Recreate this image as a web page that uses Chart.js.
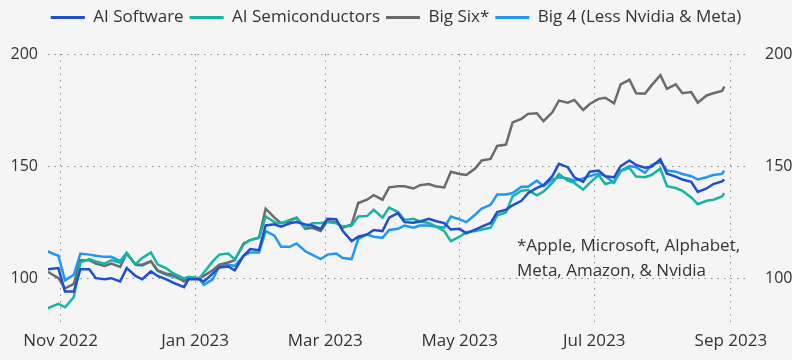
<!DOCTYPE html>
<html>
<head>
<meta charset="utf-8">
<script src="https://cdn.jsdelivr.net/npm/chart.js@4.4.1/dist/chart.umd.min.js"></script>
<style>
  html, body { margin: 0; padding: 0; background: #f5f5f5; }
  #wrap { width: 792px; height: 360px; }
</style>
</head>
<body>
<div id="wrap"><canvas id="chart" width="792" height="360"></canvas></div>
<script>
// sample dates (rebased index, 100 = end of 2022)
const dates = [
  '2022-10-26','2022-10-31','2022-11-03','2022-11-07','2022-11-10','2022-11-14','2022-11-17','2022-11-21',
  '2022-11-24','2022-11-28','2022-12-01','2022-12-05','2022-12-08','2022-12-12','2022-12-15','2022-12-19',
  '2022-12-22','2022-12-27','2022-12-29','2023-01-03','2023-01-05','2023-01-09','2023-01-12','2023-01-16',
  '2023-01-19','2023-01-23','2023-01-26','2023-01-30','2023-02-02','2023-02-06','2023-02-09','2023-02-13',
  '2023-02-16','2023-02-20','2023-02-23','2023-02-27','2023-03-02','2023-03-06','2023-03-09','2023-03-13',
  '2023-03-16','2023-03-20','2023-03-23','2023-03-27','2023-03-30','2023-04-03','2023-04-06','2023-04-10',
  '2023-04-13','2023-04-17','2023-04-20','2023-04-24','2023-04-27','2023-05-01','2023-05-04','2023-05-08',
  '2023-05-11','2023-05-15','2023-05-18','2023-05-22','2023-05-25','2023-05-29','2023-06-01','2023-06-05',
  '2023-06-08','2023-06-12','2023-06-15','2023-06-19','2023-06-22','2023-06-26','2023-06-29','2023-07-03',
  '2023-07-06','2023-07-10','2023-07-13','2023-07-17','2023-07-20','2023-07-24','2023-07-27','2023-07-31',
  '2023-08-03','2023-08-07','2023-08-10','2023-08-14','2023-08-17','2023-08-21','2023-08-24','2023-08-28',
  '2023-08-29'
];

const aiSoftware = [
  104, 104.5, 94, 94, 104, 104, 100, 99.5, 100, 98.5, 104.5, 101, 99.5, 103, 101, 99.5,
  98, 96, 99.5, 99.5, 98.5, 102, 104.7, 105.2, 103.5, 110, 113, 112.5, 123.5, 124, 123, 124.5,
  125, 124, 123.5, 122, 126.5, 126.3, 121, 116.5, 118.5, 119.5, 121.5, 121, 127, 129, 125, 124.7,
  125.3, 126.5, 125.5, 124.6, 121.7, 122, 120, 121.7, 123, 124.6, 129.5, 130.5, 132.5, 134.5, 137.9, 140.3,
  141.5, 145.5, 151, 149.5, 145, 143, 147.5, 148, 145.5, 145, 150, 152.5, 150.5, 149.3, 149.7, 153,
  146.6, 145.3, 144, 143, 138.5, 140, 142, 143.2, 144
];

const aiSemis = [
  86.5, 88.5, 87, 91.5, 107, 108.5, 107.5, 106.5, 108, 107, 111, 106.2, 109, 111.4, 106.2, 104.4,
  102.2, 99.9, 100.6, 100, 102.5, 107.5, 110.5, 111, 108.5, 115, 117, 118, 127.5, 125, 124.5, 126,
  127, 122.5, 124.5, 124.6, 125, 124.5, 123, 123.5, 127.5, 127.7, 130.5, 127, 131.5, 129.5, 126, 126.5,
  125.3, 124.6, 123.2, 121, 116.5, 118.5, 120.5, 121, 121.7, 122.5, 128, 129.3, 136.5, 139, 139.3, 137,
  138.6, 142.5, 146.5, 143.5, 142.5, 139.5, 142.5, 146, 142, 143, 147.8, 149.2, 145.3, 145, 146, 148.9,
  141, 140.2, 139, 136, 133, 134.5, 135, 136.5, 137.9
];

const bigSix = [
  103, 100, 95.5, 97.5, 108, 108, 106.5, 105.5, 106.5, 105, 111, 106, 106, 107.5, 103.5, 102,
  101.5, 98.5, 100.3, 100, 101, 103.5, 106, 107, 108, 115.5, 117, 118, 131, 127, 124.5, 125.5,
  127, 122, 122.5, 121, 125.5, 125, 122.5, 124, 133.5, 135, 137, 135, 140.5, 141, 141, 140,
  141.5, 142, 141, 140.5, 147.5, 146.5, 146, 148.9, 152.5, 153.2, 159, 159.6, 169.5, 171.1, 173.3, 173.6,
  170, 174, 179.2, 178.3, 179.5, 175, 177.7, 180, 180.5, 178, 186.5, 188.5, 182.5, 182.3, 186, 190.5,
  184.5, 186.5, 182.5, 183, 178.3, 181.5, 182.5, 183.5, 185.5
];

const big4 = [
  112, 110, 99, 101.5, 111, 110.5, 110, 109.5, 109.5, 107.6, 111.3, 106, 105.7, 107.5, 103.2, 101.5,
  100.7, 99, 100.3, 99.5, 97, 99.5, 105.5, 106, 105.5, 110, 111.5, 111.5, 121, 119, 114, 114,
  115.5, 112, 110.5, 108.5, 110.5, 111, 109, 108.5, 117.5, 119.5, 118.5, 118, 121.5, 122, 123.5, 122.5,
  123.5, 123.5, 123, 122.5, 127.5, 126.2, 125, 128.3, 131, 132.7, 137.3, 137.3, 138, 140.8, 140.8, 143.5,
  141, 144, 145, 144.5, 143.5, 144.5, 145.5, 146.7, 145.5, 142.5, 147.8, 150, 149.5, 147, 150.5, 152,
  148, 147.5, 146.5, 145.5, 144, 145, 146, 146.5, 148
];

const tickDates = ['2022-11-01', '2023-01-01', '2023-03-01', '2023-05-01', '2023-07-01', '2023-09-01'];
const tickLabels = ['Nov 2022', 'Jan 2023', 'Mar 2023', 'May 2023', 'Jul 2023', 'Sep 2023'];
const yTicks = [100, 150, 200];
const noteLines = ['*Apple, Microsoft, Alphabet,', 'Meta, Amazon, & Nvidia'];

// x axis is days since 1 Nov 2022
const origin = Date.UTC(2022, 10, 1);
const toDay = (s) => {
  const [y, m, d] = s.split('-').map(Number);
  return (Date.UTC(y, m - 1, d) - origin) / 86400000;
};
const xs = dates.map(toDay);
const tickDays = tickDates.map(toDay);
const series = (vals) => vals.map((v, i) => ({ x: xs[i], y: v }));

const font = "'Open Sans', 'Noto Sans', sans-serif";
const textColor = '#333333';
const gridColor = '#8c8c8c';

const noteText = {
  id: 'noteText',
  afterDraw(chart) {
    const ctx = chart.ctx;
    const area = chart.chartArea;
    ctx.save();
    ctx.font = `17px ${font}`;
    ctx.fillStyle = textColor;
    ctx.textBaseline = 'middle';
    ctx.textAlign = 'left';
    ctx.fillText(noteLines[0], area.right - 230, area.top + 192);
    ctx.fillText(noteLines[1], area.right - 230, area.top + 217);
    ctx.restore();
  }
};

const legendGap = {
  id: 'legendGap',
  beforeInit(chart) {
    const fit = chart.legend.fit;
    chart.legend.fit = function () {
      fit.bind(chart.legend)();
      this.height += 18;
    };
  }
};

const line = (label, vals, color) => ({
  label: label,
  data: series(vals),
  borderColor: color,
  backgroundColor: color,
  borderWidth: 2.5,
  pointRadius: 0,
  tension: 0
});

const config = {
  type: 'line',
  data: {
    datasets: [
      line('AI Software', aiSoftware, '#1f4fcf'),
      line('AI Semiconductors', aiSemis, '#16b5a2'),
      line('Big Six*', bigSix, '#6b6b6b'),
      line('Big 4 (Less Nvidia & Meta)', big4, '#2196f3')
    ]
  },
  options: {
    responsive: false,
    animation: false,
    layout: { padding: { top: 3, bottom: 0 } },
    plugins: {
      tooltip: { enabled: false },
      legend: {
        position: 'top',
        labels: {
          color: textColor,
          font: { family: font, size: 17 },
          boxWidth: 34,
          boxHeight: 3,
          padding: 6,
          generateLabels(chart) {
            return chart.data.datasets.map((ds, i) => ({
              text: ds.label,
              fillStyle: ds.borderColor,
              strokeStyle: ds.borderColor,
              lineWidth: 0,
              datasetIndex: i,
              fontColor: textColor
            }));
          }
        }
      }
    },
    scales: {
      x: {
        type: 'linear',
        min: -5.7,
        max: 311.3,
        afterBuildTicks: (axis) => { axis.ticks = tickDays.map(v => ({ value: v })); },
        ticks: {
          color: textColor,
          font: { family: font, size: 17, lineHeight: 1 },
          padding: 10,
          maxRotation: 0,
          autoSkip: false,
          callback: (value) => tickLabels[tickDays.indexOf(value)]
        },
        grid: { color: gridColor, drawTicks: false },
        border: { display: false, dash: [1.5, 5] }
      },
      y: {
        position: 'left',
        min: 80,
        max: 200,
        afterBuildTicks: (axis) => { axis.ticks = yTicks.map(v => ({ value: v })); },
        afterFit: (axis) => { axis.width = 48; },
        ticks: { color: textColor, font: { family: font, size: 16 }, padding: 10 },
        grid: { color: gridColor, drawTicks: false },
        border: { display: false, dash: [1.5, 5] }
      },
      y2: {
        position: 'right',
        min: 80,
        max: 200,
        afterBuildTicks: (axis) => { axis.ticks = yTicks.map(v => ({ value: v })); },
        afterFit: (axis) => { axis.width = 45; },
        ticks: { color: textColor, font: { family: font, size: 16 }, padding: 10 },
        grid: { display: false },
        border: { display: false }
      }
    }
  },
  plugins: [noteText, legendGap]
};

let chart = new Chart(document.getElementById('chart'), config);
</script>
</body>
</html>
